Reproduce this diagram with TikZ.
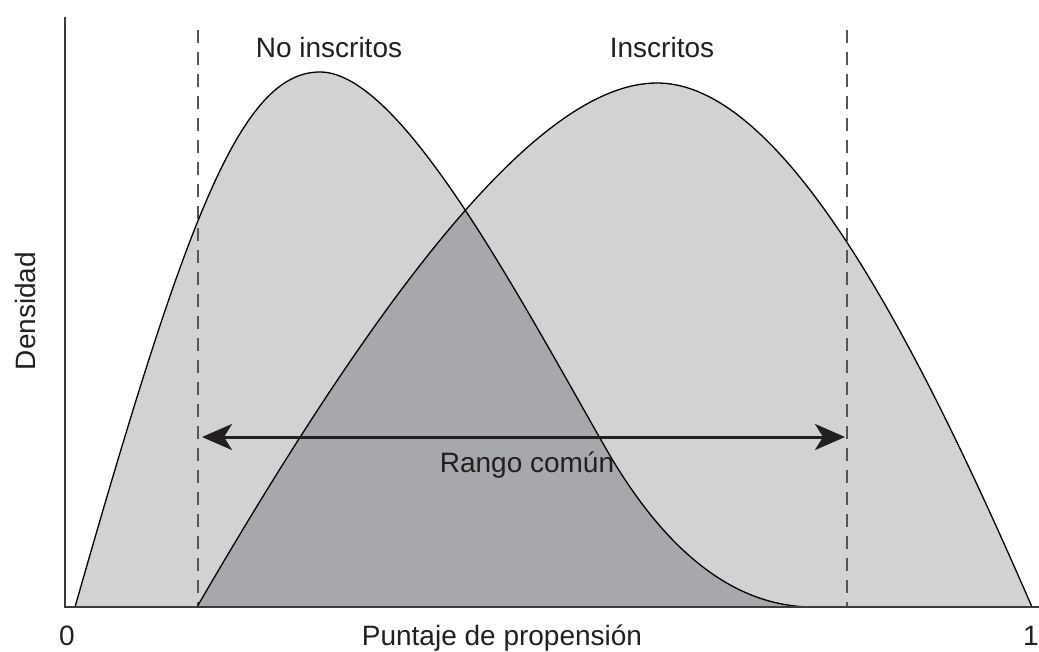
\documentclass[tikz,border=0pt]{standalone}
\usepackage{fontspec}
\setmainfont{Liberation Sans}
\usetikzlibrary{arrows.meta}
\definecolor{lightfill}{HTML}{D1D2D4}
\definecolor{darkfill}{HTML}{A7A8AB}
\definecolor{inkc}{HTML}{231F20}
\definecolor{axisc}{HTML}{3C3C3C}
\definecolor{dashc}{HTML}{555555}
\tikzset{
  lab/.style={font=\fontsize{28}{32}\selectfont, text=inkc, inner sep=0pt, anchor=base},
  curve/.style={draw=black, line width=1.3pt, line join=round},
  axisline/.style={draw=axisc, line width=2pt},
  dashline/.style={draw=dashc, line width=1.5pt, dash pattern=on 13pt off 9pt},
  rangearrow/.style={draw=inkc, line width=3pt, {Stealth[length=30pt,width=26pt,inset=8pt]}-{Stealth[length=30pt,width=26pt,inset=8pt]}}
}
\begin{document}
\begin{tikzpicture}[x=1pt,y=-1pt]
\useasboundingbox (0,0) rectangle (1039,651);
% fills
\fill[lightfill] (75,607) .. controls (185,222) and (240,72) .. (320,72) .. controls (400,72) and (515,289.5) .. (605,447) .. controls (645,517) and (713,607) .. (813,607) -- cycle;
\fill[lightfill] (197,607) .. controls (377,297) and (537,83) .. (657,83) .. controls (787,83) and (922,354) .. (1032,607) -- cycle;
\begin{scope}
\clip (75,607) .. controls (185,222) and (240,72) .. (320,72) .. controls (400,72) and (515,289.5) .. (605,447) .. controls (645,517) and (713,607) .. (813,607) -- cycle;
\fill[darkfill] (197,607) .. controls (377,297) and (537,83) .. (657,83) .. controls (787,83) and (922,354) .. (1032,607) -- cycle;
\end{scope}
% dashed limits
\coordinate (dlt) at (198,30);
\coordinate (dlb) at (198,607);
\coordinate (drt) at (847,30);
\coordinate (drb) at (847,607);
\draw[dashline] (dlt) -- (dlb);
\draw[dashline] (drt) -- (drb);
% curves
\draw[curve] (75,607) .. controls (185,222) and (240,72) .. (320,72) .. controls (400,72) and (515,289.5) .. (605,447) .. controls (645,517) and (713,607) .. (813,607);
\draw[curve] (197,607) .. controls (377,297) and (537,83) .. (657,83) .. controls (787,83) and (922,354) .. (1032,607);
% axes
\coordinate (ytop) at (65,17);
\coordinate (orig) at (65,607);
\coordinate (xend) at (1039,607);
\draw[axisline] (ytop) -- (orig) -- (xend);
% common range arrow
\coordinate (al) at (202,437);
\coordinate (ar) at (845,437);
\draw[rangearrow] (al) -- (ar);
% labels
\node[lab] (noins) at (329,57) {No inscritos};
\node[lab] (ins) at (662,57) {Inscritos};
\node[lab] (rango) at (527,472) {Rango común};
\node[lab] (xlab) at (502,645) {Puntaje de propensión};
\node[lab] (zero) at (67,645) {0};
\node[lab, anchor=base east] (one) at (1039,645) {1};
\node[lab, rotate=90] (ylab) at (35,311) {Densidad};
\end{tikzpicture}
\end{document}
